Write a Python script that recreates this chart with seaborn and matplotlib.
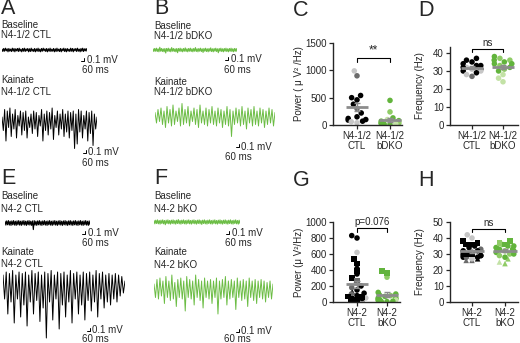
import numpy as np
import pandas as pd
import matplotlib
matplotlib.use("Agg")
import matplotlib.pyplot as plt
import seaborn as sns

sns.set_style("ticks")
plt.rcParams["font.family"] = ["Liberation Sans", "DejaVu Sans"]

W, H = 520, 343
FS = 7
GREEN = "#6cbd45"
MEAN_C = "#8c8c8c"
PALETTE = {"k": "#000000", "d": "#6b6b6b", "l": "#c6c6c6",
           "g": "#62b43c", "m": "#8fcc66", "p": "#c3e2a6"}

# ---- EEG traces (mV) ----
a_base = [0.03, -0.05, 0.05, -0.04, 0.06, -0.03, 0.04, -0.06, 0.05, -0.04, 0.03, -0.05, 0.06, -0.04, 0.05, -0.06,
          0.04, -0.03, 0.05, -0.05, 0.06, -0.04, 0.03, -0.06, 0.05, -0.04, 0.06, -0.05, 0.04, -0.03, 0.05, -0.06,
          0.04, -0.05, 0.06, -0.04, 0.03, -0.05, 0.05, -0.06, 0.04, -0.04, 0.06, -0.05, 0.03, -0.06, 0.05, -0.04,
          0.06, -0.03, 0.04, -0.05, 0.05, -0.06, 0.04, -0.04, 0.06, -0.05, 0.03, -0.04, 0.05, -0.06, 0.04, -0.05,
          0.06, -0.04, 0.03, -0.05, 0.05, -0.06, 0.04, -0.03, 0.06, -0.05, 0.04, -0.06, 0.05, -0.04, 0.03, -0.05,
          0.06, -0.04, 0.05, -0.06, 0.04, -0.03, 0.05, -0.05, 0.06, -0.04, 0.03, -0.06, 0.05, -0.04, 0.06, -0.05,
          0.04, -0.03, 0.05, -0.04]
a_kai = [0.10, -0.35, 0.35, -0.70, 0.30, -0.25, 0.40, -0.55, 0.20, -0.30, 0.35, -0.60, 0.15, -0.20, 0.30, -0.50,
         0.25, -0.35, 0.30, -0.60, 0.10, -0.25, 0.20, -0.45, 0.30, -0.30, 0.25, -0.55, 0.15, -0.20, 0.35, -0.70,
         0.20, -0.35, 0.30, -0.50, 0.25, -0.30, 0.40, -0.65, 0.15, -0.25, 0.30, -0.50, 0.20, -0.30, 0.35, -0.55,
         0.20, -0.40, 0.30, -0.60, 0.25, -0.35, 0.30, -0.95, 0.20, -0.80, 0.35, -0.40, 0.30, -0.60, 0.15, -0.30,
         0.30, -0.70, 0.25, -0.45, 0.30, -0.85, 0.20, -0.30, 0.10]
b_base = [0.04, -0.05, 0.05, -0.04, 0.06, -0.05, 0.04, -0.06, 0.09, -0.04, 0.05, -0.05, 0.04, -0.06, 0.05, -0.10,
          0.05, -0.04, 0.06, -0.05, 0.04, -0.06, 0.08, -0.04, 0.05, -0.05, 0.04, -0.06, 0.05, -0.09, 0.05, -0.04,
          0.06, -0.05, 0.04, -0.06, 0.05, -0.04, 0.07, -0.05, 0.04, -0.06, 0.05, -0.04, 0.06, -0.05, 0.04, -0.06,
          0.05, -0.04, 0.08, -0.05, 0.04, -0.06, 0.05, -0.04, 0.06, -0.05, 0.04, -0.08, 0.05, -0.04, 0.06, -0.05,
          0.04, -0.06, 0.05, -0.04, 0.07, -0.05, 0.04, -0.06, 0.05, -0.04, 0.06, -0.05, 0.04, -0.09, 0.05, -0.04,
          0.06, -0.05, 0.04, -0.06, 0.05, -0.04, 0.06, -0.05, 0.04, -0.06, 0.05, -0.04, 0.06, -0.05, 0.04, -0.06,
          0.05, -0.04, 0.05, -0.05]
b_kai = [0.15, -0.20, 0.25, -0.15, 0.30, -0.25, 0.20, -0.35, 0.35, -0.20, 0.25, -0.30, 0.40, -0.25, 0.20, -0.15,
         0.30, -0.30, 0.45, -0.25, 0.25, -0.20, 0.35, -0.30, 0.20, -0.15, 0.30, -0.25, 0.25, -0.35, 0.40, -0.20,
         0.20, -0.25, 0.30, -0.30, 0.25, -0.20, 0.35, -0.25, 0.20, -0.30, 0.30, -0.20, 0.25, -0.35, 0.20, -0.25,
         0.35, -0.30, 0.25, -0.65, 0.20, -0.25, 0.30, -0.20, 0.25, -0.30, 0.35, -0.25, 0.20, -0.40, 0.30, -0.20,
         0.25, -0.30, 0.35, -0.25, 0.20, -0.30, 0.30, -0.20, 0.25, -0.35, 0.20, -0.25, 0.30, -0.20, 0.25, -0.30,
         0.15]
e_base = [0.06, -0.07, 0.07, -0.06, 0.08, -0.07, 0.06, -0.08, 0.07, -0.06, 0.08, -0.07, 0.06, -0.08, 0.07, -0.06,
          0.08, -0.07, 0.06, -0.08, 0.07, -0.06, 0.08, -0.07, 0.06, -0.08, 0.07, -0.06, 0.08, -0.07, 0.06, -0.08,
          0.07, -0.22, 0.08, -0.07, 0.06, -0.08, 0.07, -0.06, 0.08, -0.07, 0.06, -0.08, 0.07, -0.06, 0.08, -0.07,
          0.06, -0.08, 0.07, -0.06, 0.08, -0.07, 0.06, -0.08, 0.07, -0.06, 0.08, -0.07, 0.06, -0.08, 0.07, -0.06,
          0.08, -0.07, 0.06, -0.08, 0.07, -0.06, 0.08, -0.07, 0.06, -0.08, 0.07, -0.06, 0.08, -0.07, 0.06, -0.08,
          0.07, -0.06, 0.08, -0.07, 0.06, -0.08, 0.07, -0.06, 0.08, -0.07, 0.06, -0.08, 0.07, -0.06, 0.08, -0.07,
          0.06, -0.08, 0.07, -0.06]
e_kai = [0.30, -0.50, 0.40, -1.00, 0.35, -0.60, 0.45, -1.30, 0.30, -0.50, 0.40, -1.10, 0.35, -0.70, 0.40, -1.40,
         0.30, -0.60, 0.45, -1.00, 0.35, -0.55, 0.40, -1.25, 0.30, -0.80, 0.40, -1.80, 0.35, -0.60, 0.45, -1.20,
         0.30, -0.50, 0.40, -1.50, 0.35, -0.70, 0.40, -1.10, 0.30, -0.60, 0.45, -1.30, 0.35, -0.50, 0.40, -1.00,
         0.30, -0.70, 0.40, -1.20, 0.35, -0.55, 0.40, -0.90, 0.30, -0.60, 0.45, -1.10, 0.35, -0.50, 0.40, -0.80,
         0.30, -0.60, 0.35, -0.70, 0.30, -0.50, 0.35, -0.60, 0.30, -0.40, 0.25, -0.30, 0.10]
f_base = [0.05, -0.06, 0.06, -0.05, 0.07, -0.06, 0.05, -0.07, 0.06, -0.05, 0.07, -0.06, 0.05, -0.09, 0.06, -0.05,
          0.07, -0.06, 0.05, -0.07, 0.06, -0.05, 0.07, -0.06, 0.05, -0.07, 0.06, -0.05, 0.08, -0.06, 0.05, -0.07,
          0.06, -0.05, 0.07, -0.06, 0.05, -0.07, 0.06, -0.05, 0.07, -0.06, 0.05, -0.07, 0.06, -0.05, 0.07, -0.06,
          0.05, -0.07, 0.06, -0.05, 0.07, -0.06, 0.05, -0.08, 0.06, -0.05, 0.07, -0.06, 0.05, -0.07, 0.06, -0.05,
          0.07, -0.06, 0.05, -0.07, 0.06, -0.05, 0.07, -0.06, 0.05, -0.07, 0.06, -0.05, 0.07, -0.06, 0.05, -0.07,
          0.06, -0.05, 0.07, -0.06, 0.05, -0.07, 0.06, -0.05, 0.07, -0.06, 0.05, -0.07, 0.06, -0.05, 0.07, -0.06,
          0.05, -0.07, 0.06, -0.05]
f_kai = [0.20, -0.25, 0.35, -0.30, 0.40, -0.20, 0.30, -0.45, 0.45, -0.25, 0.30, -0.35, 0.50, -0.30, 0.25, -0.55,
         0.35, -0.25, 0.40, -0.30, 0.30, -0.70, 0.45, -0.25, 0.35, -0.30, 0.30, -0.50, 0.50, -0.25, 0.35, -0.35,
         0.30, -0.60, 0.40, -0.25, 0.30, -0.30, 0.35, -0.45, 0.30, -0.25, 0.40, -0.80, 0.30, -0.30, 0.35, -0.25,
         0.45, -0.50, 0.30, -0.30, 0.35, -0.25, 0.30, -0.65, 0.40, -0.25, 0.30, -0.35, 0.35, -0.30, 0.30, -0.55,
         0.40, -0.25, 0.30, -0.35, 0.35, -0.45, 0.30, -0.25, 0.35, -0.30, 0.30, -0.40, 0.25, -0.25, 0.30, -0.30,
         0.20]

# ---- per-animal values ----
c_ctl = [990, 900, 540, 500, 460, 380, 300, 220, 150, 120, 100, 90, 70, 60, 40]
c_ctl_shade = "ldkkkkdkkkkkkll"
c_ko = [450, 240, 130, 100, 80, 70, 50, 40, 30, 25, 20, 15, 10]
c_ko_shade = "gmgpggpgmgpgg"

d_ctl = [37, 36, 35, 34, 33, 33, 32, 32, 31, 31, 30, 30, 29, 28, 27]
d_ctl_shade = "kkkkkklkklklkld"
d_ko = [38, 37, 36, 36, 35, 34, 34, 33, 32, 31, 30, 28, 26, 24]
d_ko_shade = "gmgmgggmgmgppp"

g_ctl = [830, 800, 620, 540, 480, 420, 390, 350, 300, 270, 240, 200, 180, 150, 130,
         110, 100, 90, 80, 70, 60, 50, 45, 40, 35, 30, 25, 20, 15, 10]
g_ctl_shade = "kklkkkkkkdlkdkkkdlkkklkdkkllkk"
g_ctl_mk = "ooossosossoooo^oo^ossoo^sso^^o"
g_ko = [390, 360, 310, 120, 100, 90, 80, 70, 60, 50, 45, 40, 35, 30, 25, 20, 15, 10, 8, 5]
g_ko_shade = "ggmgggmgpgmgggpgmggg"
g_ko_mk = "ssooooooooooo^oo^ooo"

h_ctl = [42, 40, 38, 37, 36, 36, 35, 34, 33, 32, 32, 31, 31, 30, 30, 30, 29, 29, 29,
         28, 28, 28, 27, 27, 26, 26]
h_ctl_shade = "llkkkkkkdkkkkkkkkkkkkdkldd"
h_ctl_mk = "oossssoooooooossoooooo^o^^"
h_ko = [38, 37, 36, 36, 35, 35, 34, 34, 33, 33, 32, 32, 31, 30, 30, 29, 28, 27, 25, 24]
h_ko_shade = "gmgmggmgggmggmgmgmpm"
h_ko_mk = "sssoooooooooooooo^^^"

fig = plt.figure(figsize=(W / 100, H / 100), dpi=100)


def px_axes(x0, x1, ytop, ybot):
    return fig.add_axes([x0 / W, 1 - ybot / H, (x1 - x0) / W, (ybot - ytop) / H])


def trace(vals, x0, x1, yc, color, half=60, px_per_mv=30.0, lw=0.7):
    ax = px_axes(x0, x1, yc - half, yc + half)
    n = len(vals)
    sns.lineplot(x=np.arange(n), y=vals, ax=ax, color=color, lw=lw, estimator=None)
    ax.set_xlim(0, n - 1)
    ax.set_ylim(-half / px_per_mv, half / px_per_mv)
    ax.axis("off")


def swarm_group(rect, center, vals, shades, mks, ylim, px_unit=22):
    # one swarm per group on its own transparent axes so the swarm stays narrow
    x0, x1, ytop, ybot = rect
    tw = px_axes(x0, x1, ytop, ybot)
    tw.set_zorder(1)
    df = pd.DataFrame({"group": "g", "value": vals, "shade": list(shades), "marker": list(mks)})
    for mk, sub in df.groupby("marker"):
        sns.swarmplot(data=sub, x="group", y="value", hue="shade", palette=PALETTE,
                      marker=mk, size=4, linewidth=0, legend=False, ax=tw, warn_thresh=1)
    tw.set_xlim((x0 - center) / px_unit, (x1 - center) / px_unit)
    tw.set_ylim(*ylim)
    tw.axis("off")


def dot_panel(rect, centers, ctl, ctl_shade, ko, ko_shade, xlabels, ylim, yticks, ylabel,
              ylab_px, mean_hw, sig, sig_y, drop, ctl_mk=None, ko_mk=None):
    x0, x1, ytop, ybot = rect
    ax = px_axes(x0, x1, ytop, ybot)
    ax.set_zorder(2)
    ax.patch.set_visible(False)
    swarm_group(rect, centers[0], ctl, ctl_shade, ctl_mk or "o" * len(ctl), ylim)
    swarm_group(rect, centers[1], ko, ko_shade, ko_mk or "o" * len(ko), ylim)
    for i, vals in enumerate([ctl, ko]):
        v = np.asarray(vals, float)
        m = v.mean()
        se = v.std(ddof=1) / np.sqrt(len(v))
        ax.hlines(m, i - mean_hw, i + mean_hw, color=MEAN_C, lw=2, zorder=5)
        ax.errorbar(i, m, yerr=se, color=MEAN_C, lw=1, capsize=2.5, capthick=1, zorder=5)
    unit = centers[1] - centers[0]
    ax.set_xlim((x0 - centers[0]) / unit, (x1 - centers[0]) / unit)
    ax.set_ylim(*ylim)
    ax.set_yticks(yticks)
    ax.set_xticks([0, 1])
    ax.set_xticklabels(xlabels, linespacing=1.0)
    ax.set_ylabel(ylabel, fontsize=FS, labelpad=0)
    ax.yaxis.set_label_coords((ylab_px - x0) / (x1 - x0), 0.5)
    ax.tick_params(labelsize=FS, length=3, width=0.9, pad=1.5)
    for s in ["left", "bottom"]:
        ax.spines[s].set_linewidth(1)
    sns.despine(ax=ax)
    ax.plot([0, 0, 1, 1], [sig_y - drop, sig_y, sig_y, sig_y - drop], color="k", lw=0.8, clip_on=False)
    ax.text(0.5, sig_y + drop * 0.3, sig, ha="center", va="bottom",
            fontsize=8.5 if sig == "**" else FS)
    return ax


# traces
trace(a_base, 2, 87, 50, "k", lw=0.8)
trace(a_kai, 2, 97, 120, "k")
trace(b_base, 153, 237, 50, GREEN, lw=0.8)
trace(b_kai, 155, 275, 117, GREEN)
trace(e_base, 5, 90, 223, "k", lw=0.8)
trace(e_kai, 3, 125, 284, "k")
trace(f_base, 154, 240, 222, GREEN, lw=0.8)
trace(f_kai, 154, 273, 290, GREEN)

# dot plots
dot_panel((333, 402, 43, 125), (357, 390), c_ctl, c_ctl_shade, c_ko, c_ko_shade,
          ["N4-1/2\nCTL", "N4-1/2\nbDKO"], (0, 1500), [0, 500, 1000, 1500],
          "Power ( \u03bc V\u00b2 /Hz)", 304, 0.33, "**", 1226, 70)
dot_panel((450, 518, 47, 125), (472, 503), d_ctl, d_ctl_shade, d_ko, d_ko_shade,
          ["N4-1/2\nCTL", "N4-1/2\nbDKO"], (0, 43.3), [0, 10, 20, 30, 40],
          "Frequency (Hz)", 425, 0.36, "ns", 42.2, 1.5)
dot_panel((333, 400, 222, 302), (357, 387), g_ctl, g_ctl_shade, g_ko, g_ko_shade,
          ["N4-2\nCTL", "N4-2\nbKO"], (0, 1000), [0, 200, 400, 600, 800, 1000],
          "Power (\u03bc V\u00b2/Hz)", 304, 0.37, "p=0.076", 925, 45,
          ctl_mk=g_ctl_mk, ko_mk=g_ko_mk)
dot_panel((450, 518, 222, 302), (472, 505), h_ctl, h_ctl_shade, h_ko, h_ko_shade,
          ["N4-2\nCTL", "N4-2\nbKO"], (0, 50), [0, 10, 20, 30, 40, 50],
          "Frequency (Hz)", 425, 0.35, "ns", 45.6, 2,
          ctl_mk=h_ctl_mk, ko_mk=h_ko_mk)

# overlay for labels and scale bars (pixel coordinates)
ov = fig.add_axes([0, 0, 1, 1])
ov.set_zorder(3)
ov.set_xlim(0, W)
ov.set_ylim(H, 0)
ov.axis("off")

for letter, x, y in [("A", 1, 9), ("B", 154, 9), ("C", 293, 11), ("D", 418, 10),
                     ("E", 1, 178), ("F", 154, 178), ("G", 293, 181), ("H", 418, 180)]:
    ov.text(x, y, letter, fontsize=15.5, va="center", ha="left")

for txt, x, y in [("Baseline", 1, 25), ("N4-1/2 CTL", 1, 35), ("Kainate", 1, 80), ("N4-1/2 CTL", 1, 92),
                  ("Baseline", 154, 26), ("N4-1/2 bDKO", 154, 36), ("Kainate", 154, 82), ("N4-1/2 bDKO", 154, 92),
                  ("Baseline", 1, 196), ("N4-2 CTL", 1, 209), ("Kainate", 1, 252), ("N4-2 CTL", 1, 264),
                  ("Baseline", 154, 196), ("N4-2 bKO", 154, 209), ("Kainate", 154, 252), ("N4-2 bKO", 154, 265)]:
    ov.text(x, y, txt, fontsize=FS, va="center", ha="left")


def scale_bar(cx, yb, mv_x, mv_y, ms_x, ms_y):
    ov.plot([cx - 3, cx, cx], [yb, yb, yb - 3], color="k", lw=0.7)
    ov.text(mv_x, mv_y, "0.1 mV", fontsize=FS, va="center", ha="left")
    ov.text(ms_x, ms_y, "60 ms", fontsize=FS, va="center", ha="left")


scale_bar(84, 61, 87, 60, 82, 70)
scale_bar(86, 153, 88, 152, 82, 163)
scale_bar(228, 60, 231, 59, 224, 70)
scale_bar(239, 147, 241, 147, 225, 157)
scale_bar(85, 234, 88, 233, 82, 243)
scale_bar(90, 331, 92, 330, 82, 339)
scale_bar(229, 234, 232, 233, 225, 243)
scale_bar(239, 332, 241, 331, 224, 339)

fig.savefig("out.png", dpi=100)
